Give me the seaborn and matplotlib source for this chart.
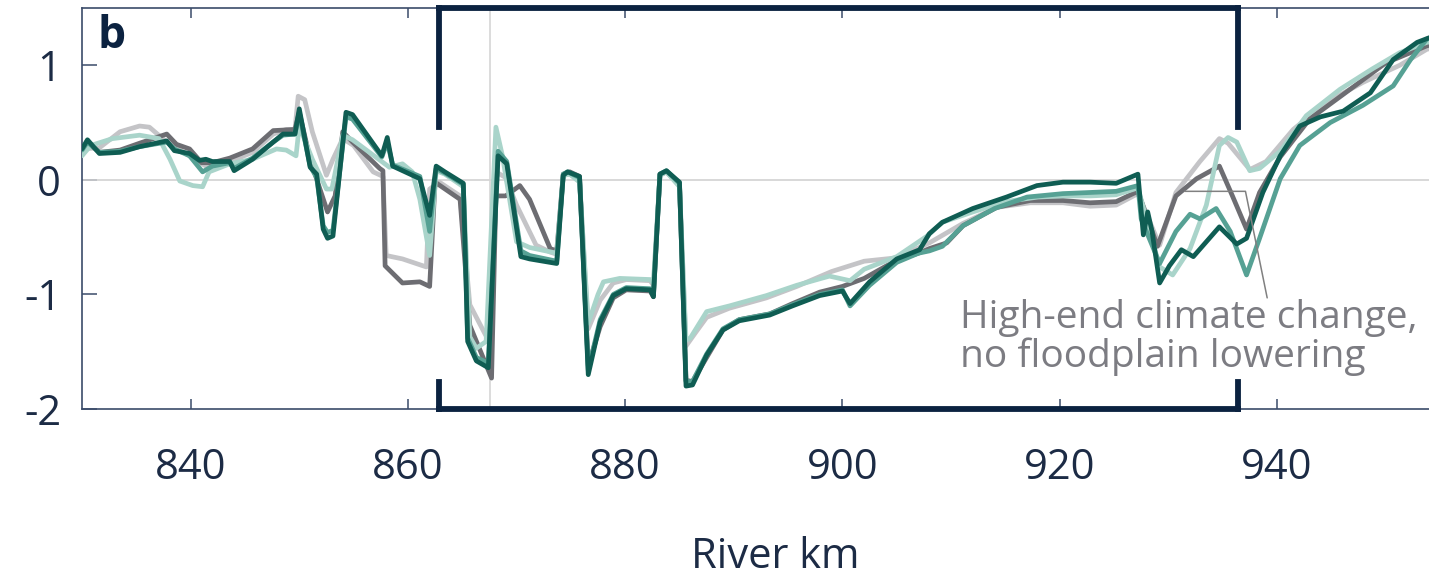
"""Water level change along the river (panel b), several scenarios."""

import numpy as np
import pandas as pd
import matplotlib
matplotlib.use("Agg")
import matplotlib.pyplot as plt
import seaborn as sns

# --- data --------------------------------------------------------------
km_light_gray = [830, 831.6, 833.5, 835.3, 836.2, 837.8, 839.9, 841.4, 843.6, 845.7, 847.6,
                 848.8, 849.6, 849.9, 850.5, 851.2, 852.5, 853.1, 854.0, 855.0, 856.8, 857.7,
                 858.0, 859.5, 861.7, 862.0, 862.9, 864.8, 865.7, 867.4, 868.1, 869.0, 870.0,
                 871.8, 873.1, 873.7, 874.3, 874.9, 875.8, 876.6, 877.7, 878.9, 880.1, 882.3,
                 882.6, 883.2, 883.8, 885.0, 885.6, 886.5, 887.5, 889.6, 893.0, 895.8, 899.0,
                 902.0, 905.0, 908.0, 911.1, 914.2, 917.3, 920.3, 922.8, 925.2, 927.2, 929.2,
                 930.7, 932.9, 934.7, 935.5, 937.5, 939.0, 941.5, 944.6, 947.9, 951.3, 953.8,
                 957.6]
dz_light_gray = [0.27, 0.28, 0.42, 0.47, 0.46, 0.33, 0.21, 0.12, 0.16, 0.24, 0.40,
                 0.44, 0.44, 0.73, 0.70, 0.42, 0.04, 0.18, 0.36, 0.30, 0.07, 0.03,
                 -0.66, -0.69, -0.76, -0.08, -0.02, -0.14, -1.09, -1.40, 0.07, 0.02, -0.22,
                 -0.57, -0.63, -0.65, 0.04, 0.05, 0.00, -1.30, -1.05, -0.90, -0.87, -0.88,
                 -0.92, 0.04, 0.07, -0.05, -1.45, -1.33, -1.20, -1.12, -1.03, -0.93, -0.80,
                 -0.71, -0.68, -0.55, -0.38, -0.24, -0.20, -0.20, -0.23, -0.22, -0.12, -0.57,
                 -0.11, 0.16, 0.36, 0.32, 0.09, 0.16, 0.44, 0.68, 0.85, 1.00, 1.14,
                 1.22]

km_dark_gray = [830, 830.5, 831.6, 833.5, 835.3, 837.8, 838.7, 839.9, 841.0, 842.0, 843.6,
                845.7, 847.6, 849.6, 850.0, 851.0, 851.9, 852.6, 853.3, 854.0, 854.9, 857.4,
                857.7, 857.9, 859.5, 861.1, 862.0, 862.5, 864.8, 865.7, 867.7, 868.1, 869.0,
                870.3, 871.2, 873.1, 873.7, 874.3, 874.9, 875.8, 876.6, 877.7, 878.9, 880.1,
                882.3, 882.6, 883.2, 883.8, 885.0, 885.6, 886.2, 887.5, 889.0, 890.5, 893.3,
                895.4, 897.9, 900.0, 902.0, 905.0, 907.0, 908.0, 909.6, 911.1, 914.2, 917.3,
                920.3, 922.8, 925.2, 927.2, 929.0, 930.7, 932.6, 934.7, 935.9, 937.2, 938.4,
                940.3, 943.0, 946.3, 950.0, 953.8, 957.6]
dz_dark_gray = [0.27, 0.33, 0.24, 0.26, 0.32, 0.40, 0.31, 0.27, 0.15, 0.15, 0.19,
                0.27, 0.43, 0.44, 0.59, 0.18, -0.08, -0.28, -0.14, 0.42, 0.33, 0.10,
                0.08, -0.75, -0.90, -0.89, -0.93, -0.02, -0.17, -1.27, -1.73, -0.14, -0.14,
                -0.05, -0.17, -0.60, -0.62, 0.05, 0.07, 0.03, -1.62, -1.28, -1.03, -0.96,
                -0.97, -1.02, 0.05, 0.07, -0.03, -1.75, -1.76, -1.55, -1.31, -1.22, -1.17,
                -1.08, -0.98, -0.93, -0.86, -0.70, -0.64, -0.60, -0.55, -0.40, -0.24, -0.18,
                -0.18, -0.20, -0.19, -0.10, -0.58, -0.14, 0.01, 0.12, -0.14, -0.43, -0.11,
                0.20, 0.53, 0.76, 1.02, 1.17, 1.25]

km_light_teal = [830, 830.8, 832.8, 835.3, 837.1, 838.1, 839.0, 840.2, 841.1, 841.7, 843.6,
                 845.7, 847.9, 848.8, 849.7, 850.0, 851.2, 852.5, 853.0, 854.0, 854.9, 858.3,
                 859.5, 860.4, 861.1, 862.0, 862.6, 863.4, 865.1, 865.7, 866.3, 867.2, 868.1,
                 868.7, 870.0, 871.2, 873.7, 874.3, 874.9, 875.8, 876.6, 877.5, 878.0, 879.5,
                 882.3, 882.6, 883.2, 883.8, 885.0, 885.6, 886.0, 887.5, 889.6, 893.0, 895.8,
                 898.8, 900.7, 902.0, 905.0, 907.8, 909.2, 912.0, 915.0, 918.0, 920.3, 922.8,
                 925.2, 927.2, 929.2, 930.4, 932.0, 933.5, 934.7, 935.5, 936.3, 937.5, 938.4,
                 940.3, 942.7, 945.8, 948.8, 951.3, 953.8, 957.6]
dz_light_teal = [0.21, 0.30, 0.36, 0.39, 0.36, 0.18, -0.01, -0.05, -0.06, 0.07, 0.14,
                 0.18, 0.27, 0.26, 0.21, 0.47, 0.18, -0.08, -0.08, 0.39, 0.35, 0.11,
                 0.14, 0.07, -0.17, -0.66, 0.08, 0.05, -0.06, -1.37, -1.47, -1.41, 0.46,
                 0.21, -0.54, -0.59, -0.64, 0.04, 0.05, -0.02, -1.25, -1.00, -0.89, -0.86,
                 -0.87, -0.90, 0.04, 0.07, -0.06, -1.40, -1.38, -1.15, -1.10, -1.01, -0.92,
                 -0.84, -0.88, -0.78, -0.67, -0.49, -0.37, -0.28, -0.19, -0.15, -0.14, -0.14,
                 -0.13, -0.07, -0.76, -0.83, -0.60, -0.22, 0.30, 0.37, 0.33, 0.08, 0.10,
                 0.25, 0.56, 0.79, 0.97, 1.11, 1.20, 1.26]

km_mid_teal = [830, 830.5, 831.6, 833.5, 835.3, 837.8, 838.5, 839.9, 841.1, 842.0, 843.6,
               844.0, 845.7, 847.6, 848.5, 849.6, 850.0, 851.0, 851.6, 852.2, 852.6, 853.1,
               854.3, 854.9, 857.6, 858.1, 858.6, 861.1, 862.0, 862.6, 863.4, 865.1, 865.5,
               866.3, 867.4, 868.3, 869.1, 870.4, 871.2, 873.7, 874.3, 874.7, 875.8, 876.6,
               877.7, 878.9, 880.1, 882.3, 882.6, 883.2, 883.8, 885.0, 885.6, 886.2, 887.5,
               889.0, 890.5, 893.3, 895.4, 897.9, 900.0, 900.7, 902.5, 905.0, 907.0, 908.0,
               909.2, 911.1, 914.0, 917.0, 920.3, 922.8, 925.2, 927.2, 927.5, 929.2, 930.7,
               932.0, 932.9, 934.4, 935.7, 937.2, 938.4, 940.3, 942.1, 944.9, 947.9, 950.7,
               952.3, 953.8, 957.6]
dz_mid_teal = [0.26, 0.33, 0.24, 0.25, 0.29, 0.33, 0.27, 0.21, 0.07, 0.12, 0.15,
               0.10, 0.19, 0.33, 0.39, 0.40, 0.58, 0.12, 0.02, -0.40, -0.46, -0.44,
               0.55, 0.53, 0.20, 0.33, 0.13, 0.03, -0.45, 0.10, 0.06, -0.04, -1.38,
               -1.55, -1.60, 0.25, 0.16, -0.62, -0.66, -0.71, 0.05, 0.07, 0.02, -1.66,
               -1.22, -1.00, -0.94, -0.95, -1.00, 0.05, 0.08, -0.03, -1.76, -1.76, -1.52,
               -1.30, -1.22, -1.17, -1.09, -1.00, -0.96, -1.10, -0.92, -0.72, -0.64, -0.62,
               -0.58, -0.40, -0.25, -0.15, -0.12, -0.11, -0.10, -0.05, -0.34, -0.73, -0.45,
               -0.30, -0.34, -0.25, -0.45, -0.83, -0.51, 0.01, 0.30, 0.50, 0.65, 0.82,
               1.05, 1.23, 1.30]

km_dark_teal = [830, 830.5, 831.6, 833.5, 835.3, 837.8, 838.5, 839.9, 840.8, 841.4, 842.0,
                843.6, 844.0, 845.7, 847.6, 848.5, 849.6, 850.0, 851.0, 851.6, 852.2, 852.6,
                853.1, 854.3, 854.9, 857.6, 858.1, 858.6, 861.1, 862.0, 862.6, 863.4, 865.1,
                865.5, 866.3, 867.4, 868.3, 869.1, 870.4, 871.2, 873.7, 874.3, 874.7, 875.8,
                876.6, 877.7, 878.9, 880.1, 882.3, 882.6, 883.2, 883.8, 885.0, 885.6, 886.2,
                887.5, 889.0, 890.5, 893.3, 895.4, 897.9, 900.0, 900.7, 902.5, 905.0, 907.1,
                908.0, 909.2, 912.0, 915.1, 917.9, 920.3, 922.8, 925.2, 927.2, 927.7, 928.1,
                928.5, 929.2, 930.1, 931.2, 932.3, 934.7, 936.3, 937.2, 938.7, 940.3, 942.1,
                944.0, 946.1, 948.6, 950.7, 952.9, 954.0, 957.6]
dz_dark_teal = [0.27, 0.35, 0.23, 0.24, 0.29, 0.34, 0.255, 0.23, 0.17, 0.18, 0.16,
                0.16, 0.08, 0.18, 0.33, 0.40, 0.40, 0.62, 0.11, 0.05, -0.43, -0.51,
                -0.49, 0.59, 0.57, 0.21, 0.37, 0.12, 0.01, -0.31, 0.12, 0.07, -0.03,
                -1.41, -1.58, -1.64, 0.21, 0.14, -0.67, -0.69, -0.73, 0.04, 0.07, 0.03,
                -1.70, -1.24, -1.01, -0.95, -0.96, -1.02, 0.05, 0.08, -0.02, -1.80, -1.79,
                -1.53, -1.31, -1.23, -1.18, -1.10, -1.01, -0.97, -1.08, -0.89, -0.69, -0.61,
                -0.47, -0.37, -0.25, -0.15, -0.05, -0.02, -0.02, -0.03, 0.05, -0.48, -0.28,
                -0.45, -0.90, -0.75, -0.61, -0.67, -0.41, -0.56, -0.51, -0.11, 0.21, 0.47,
                0.55, 0.60, 0.76, 1.05, 1.20, 1.24, 1.33]

scenarios = ["light_gray", "dark_gray", "light_teal", "mid_teal", "dark_teal"]
colors = ["#c4c4c7", "#6d6d72", "#a9d4ca", "#56a194", "#0f5d53"]

km_bracket = (862.9, 936.4)
km_ref = 867.6

# --- style ------------------------------------------------------------------
sns.set_theme(style="white")
plt.rcParams["font.family"] = ["Open Sans", "DejaVu Sans"]
plt.rcParams["axes.unicode_minus"] = False

navy = "#0b2240"
spine_col = "#3b4c6a"
text_col = "#1c2b45"

frames = [
    pd.DataFrame({"km": km_light_gray, "dz": dz_light_gray, "scenario": "light_gray"}),
    pd.DataFrame({"km": km_dark_gray, "dz": dz_dark_gray, "scenario": "dark_gray"}),
    pd.DataFrame({"km": km_light_teal, "dz": dz_light_teal, "scenario": "light_teal"}),
    pd.DataFrame({"km": km_mid_teal, "dz": dz_mid_teal, "scenario": "mid_teal"}),
    pd.DataFrame({"km": km_dark_teal, "dz": dz_dark_teal, "scenario": "dark_teal"}),
]
df = pd.concat(frames, ignore_index=True)

fig = plt.figure(figsize=(14.29, 5.76), dpi=100)
ax = fig.add_axes([0.0574, 0.2899, 0.97, 0.6962])

# reference lines
ax.axhline(0, color="#d2d2d2", lw=1.2, zorder=1)
ax.axvline(km_ref, color="#d6d6d6", lw=1.2, zorder=1)

sns.lineplot(data=df, x="km", y="dz", hue="scenario", hue_order=scenarios,
             palette=dict(zip(scenarios, colors)), estimator=None, sort=False,
             legend=False, linewidth=3.4, ax=ax, zorder=3)

ax.set_xlim(830, 957.6)
ax.set_ylim(-2, 1.5)

# bracket marking the focus reach
x0, x1 = km_bracket
bk = dict(color=navy, lw=4.2, solid_capstyle="projecting", clip_on=False, zorder=5)
ax.plot([x0, x1], [1.5, 1.5], **bk)
ax.plot([x0, x1], [-2, -2], **bk)
for xx in (x0, x1):
    ax.plot([xx, xx], [1.5, 0.46], **bk)
    ax.plot([xx, xx], [-1.76, -2], **bk)

# annotation with leader line
ax.plot([931.5, 937.1, 939.1], [-0.10, -0.10, -1.03], color="#808080", lw=1.1, zorder=4)
ax.text(910.8, -1.04, "High-end climate change,\nno floodplain lowering",
        color="#7c7c82", fontsize=28, va="top", ha="left", linespacing=1.02)

ax.text(0.011, 0.985, "b", transform=ax.transAxes, fontsize=32, fontweight="bold",
        color=navy, va="top", ha="left")

ax.set_xticks([840, 860, 880, 900, 920, 940])
ax.set_yticks([-2, -1, 0, 1])
ax.tick_params(axis="x", direction="in", length=7, width=1.1, color=spine_col,
               top=True, bottom=True, pad=27, labelsize=30, labelcolor=text_col)
ax.tick_params(axis="y", direction="in", length=11, width=1.1, color=spine_col,
               left=True, pad=15, labelsize=30, labelcolor=text_col)

for side in ("left", "top", "bottom"):
    ax.spines[side].set_color(spine_col)
    ax.spines[side].set_linewidth(1.2)
ax.spines["right"].set_visible(False)

ax.set_xlabel("River km", fontsize=30, color=text_col, labelpad=34)
ax.set_ylabel("")

fig.savefig("out.png", dpi=100)
